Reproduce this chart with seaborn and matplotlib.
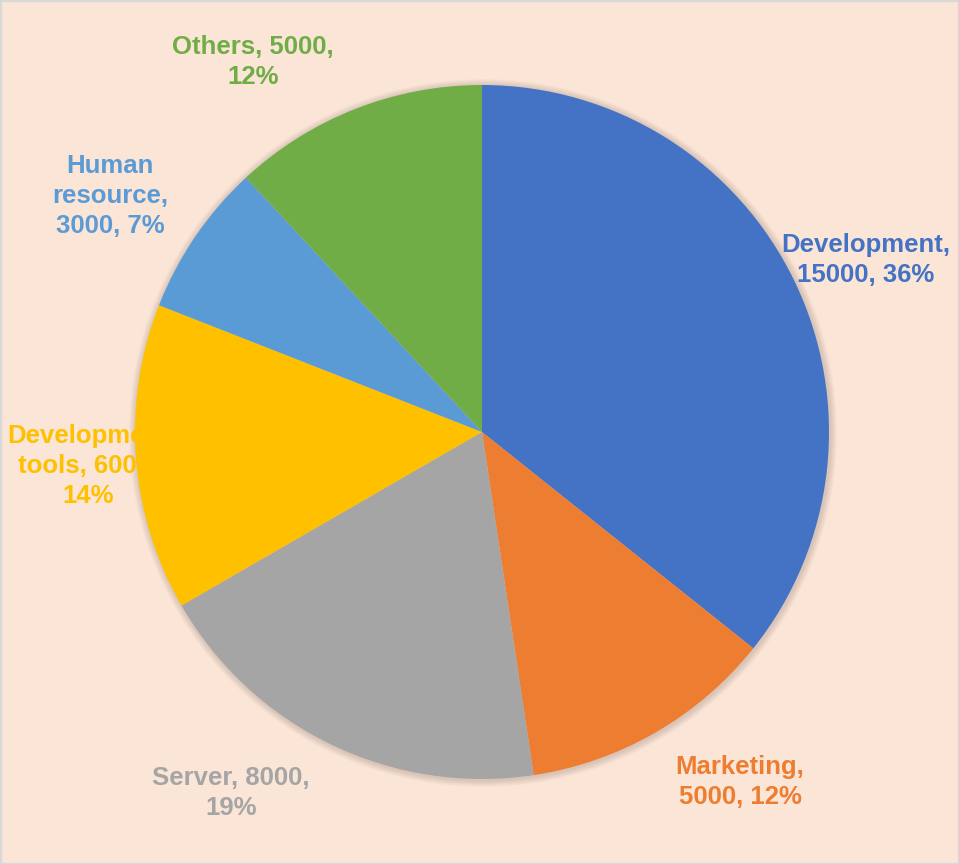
import matplotlib
matplotlib.use("Agg")
import matplotlib.pyplot as plt
import seaborn as sns
from matplotlib.patches import Circle, Rectangle

sns.set_theme(style="white")
plt.rcParams['font.family'] = ['Liberation Sans', 'DejaVu Sans']

# data
categories = ["Development", "Marketing", "Server", "Development tools", "Human resource", "Others"]
values = [15000, 5000, 8000, 6000, 3000, 5000]
label_text = ["Development,\n15000, 36%",
              "Marketing,\n5000, 12%",
              "Server, 8000,\n19%",
              "Development\ntools, 6000,\n14%",
              "Human\nresource,\n3000, 7%",
              "Others, 5000,\n12%"]
colors = sns.color_palette(["#4472C4", "#ED7D31", "#A5A5A5", "#FFC000", "#5B9BD5", "#70AD47"])

# label anchor points (pixel space, y from bottom)
label_x = [866, 740, 231, 88, 110, 253]
label_y = [864 - 260, 864 - 782, 864 - 793, 864 - 466, 864 - 196, 864 - 62]

bg = "#FBE5D6"
fig = plt.figure(figsize=(9.59, 8.64), dpi=100, facecolor=bg)
ax = fig.add_axes([0, 0, 1, 1])
ax.set_facecolor(bg)

cx, cy, r = 482, 432, 347

# soft shadow
for i in range(7):
    ax.add_patch(Circle((cx + 1, cy - 1), r + 1 + i, color="black", alpha=0.02, lw=0, zorder=0.2))

wedges, _ = ax.pie(values, colors=colors, startangle=90, counterclock=False,
                   center=(cx, cy), radius=r, wedgeprops=dict(linewidth=0))
for w in wedges:
    w.set_zorder(1)

for txt, x, y, c in zip(label_text, label_x, label_y, colors):
    ax.text(x, y, txt, ha="center", va="center", color=c, fontsize=18.5,
            fontweight="bold", linespacing=1.32, zorder=0.5)

ax.set_xlim(0, 959)
ax.set_ylim(0, 864)
ax.set_aspect("equal")
ax.axis("off")

fig.patches.append(Rectangle((0, 0), 1, 1, transform=fig.transFigure, fill=False,
                             edgecolor="#D9D9D9", linewidth=2.5))

fig.savefig("out.png", dpi=100, facecolor=bg)
